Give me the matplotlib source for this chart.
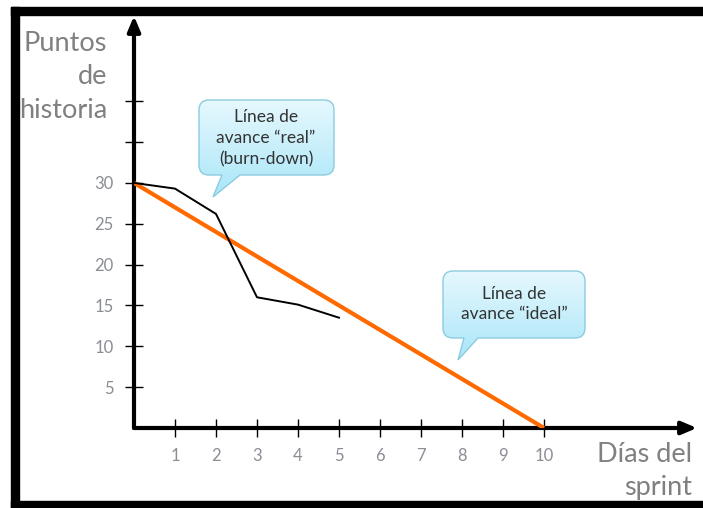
import matplotlib
matplotlib.use("Agg")
import matplotlib.pyplot as plt
import numpy as np
from matplotlib.path import Path
from matplotlib.patches import PathPatch, Rectangle

plt.rcParams['font.family'] = ['Lato', 'DejaVu Sans']

# data
dias_real = [0, 1, 2, 3, 4, 5]
puntos_real = [30, 29.3, 26.2, 16.0, 15.1, 13.5]
dias_ideal = [0, 10]
puntos_ideal = [30, 0]
x_ticks = [1, 2, 3, 4, 5, 6, 7, 8, 9, 10]
y_ticks = [5, 10, 15, 20, 25, 30, 35, 40]
y_labels = ["5", "10", "15", "20", "25", "30", "", ""]

W, H = 703, 508
fig = plt.figure(figsize=(W / 100, H / 100), dpi=100)

# overlay in pixel coords for frame, labels and callouts
ov = fig.add_axes([0, 0, 1, 1], zorder=0)
ov.set_xlim(0, W)
ov.set_ylim(H, 0)
ov.axis("off")

# chart axes: origin at (134, 428) px, 41 px per day, 8.17 px per point
x0, y0, x1, y1 = 134, 428, 697, 16
ax = fig.add_axes([x0 / W, (H - y0) / H, (x1 - x0) / W, (y0 - y1) / H], zorder=1)
ax.patch.set_alpha(0)
ax.set_xlim(0, (x1 - x0) / 41.0)
ax.set_ylim(0, (y0 - y1) / 8.17)
for s in ax.spines.values():
    s.set_visible(False)

arrow = dict(arrowstyle="-|>,head_length=0.9,head_width=0.38",
             lw=3, color="black", shrinkA=0, shrinkB=0)
ax.annotate("", xy=(1, 0), xytext=(0, 0), xycoords="axes fraction", arrowprops=arrow)
ax.annotate("", xy=(0, 1), xytext=(0, 0), xycoords="axes fraction", arrowprops=arrow)

ax.set_xticks(x_ticks)
ax.set_xticklabels([str(t) for t in x_ticks])
ax.set_yticks(y_ticks)
ax.set_yticklabels(y_labels)
ax.tick_params(direction="inout", length=13, width=1, color="black",
               labelsize=12, labelcolor="#8a8d94", pad=8)

ax.plot(dias_ideal, puntos_ideal, color="#ff6a00", lw=3, solid_capstyle="butt", zorder=3)
ax.plot(dias_real, puntos_real, color="black", lw=1.4, zorder=4)

# axis titles
tcol = "#808080"
ov.text(107, 77, "Puntos\nde\nhistoria", ha="right", va="center", fontsize=19.5,
        color=tcol, linespacing=1.42)
ov.text(692, 471, "Días del\nsprint", ha="right", va="center", fontsize=19.5,
        color=tcol, linespacing=1.42)

# frame bars
ov.add_patch(Rectangle((11, 7), 8, 501, color="black", zorder=5))
ov.add_patch(Rectangle((11, 7), W, 8, color="black", zorder=5))
ov.add_patch(Rectangle((11, 501), W, 8, color="black", zorder=5))


def callout(bx0, by0, bx1, by1, tx0, tx1, px, py, r=10):
    verts = [(bx0 + r, by0), (bx1 - r, by0), (bx1, by0), (bx1, by0 + r),
             (bx1, by1 - r), (bx1, by1), (bx1 - r, by1),
             (tx1, by1), (px, py), (tx0, by1),
             (bx0 + r, by1), (bx0, by1), (bx0, by1 - r),
             (bx0, by0 + r), (bx0, by0), (bx0 + r, by0), (bx0 + r, by0)]
    codes = [Path.MOVETO, Path.LINETO, Path.CURVE3, Path.CURVE3,
             Path.LINETO, Path.CURVE3, Path.CURVE3,
             Path.LINETO, Path.LINETO, Path.LINETO,
             Path.LINETO, Path.CURVE3, Path.CURVE3,
             Path.LINETO, Path.CURVE3, Path.CURVE3, Path.CLOSEPOLY]
    path = Path(verts, codes)
    patch = PathPatch(path, facecolor="none", edgecolor="#8ccbe0", lw=1, zorder=6)
    ov.add_patch(patch)
    grad = np.linspace(0, 1, 256).reshape(-1, 1)
    cmap = matplotlib.colors.LinearSegmentedColormap.from_list("g", ["#e6f8fe", "#a9e6f8"])
    im = ov.imshow(grad, cmap=cmap, extent=(bx0, bx1, py, by0), aspect="auto",
                   zorder=5.5, interpolation="bilinear")
    im.set_clip_path(patch)


callout(199, 100, 334, 175, 222, 240, 213, 197)
ov.text(266, 138, "Línea de\navance “real”\n(burn-down)", ha="center", va="center",
        fontsize=12.5, color="#333333", linespacing=1.38, zorder=7)
callout(443, 271, 585, 338, 464, 478, 458, 360)
ov.text(514, 304, "Línea de\navance “ideal”", ha="center", va="center",
        fontsize=12.5, color="#333333", linespacing=1.38, zorder=7)

ov.set_xlim(0, W)
ov.set_ylim(H, 0)

fig.savefig("out.png", dpi=100)
